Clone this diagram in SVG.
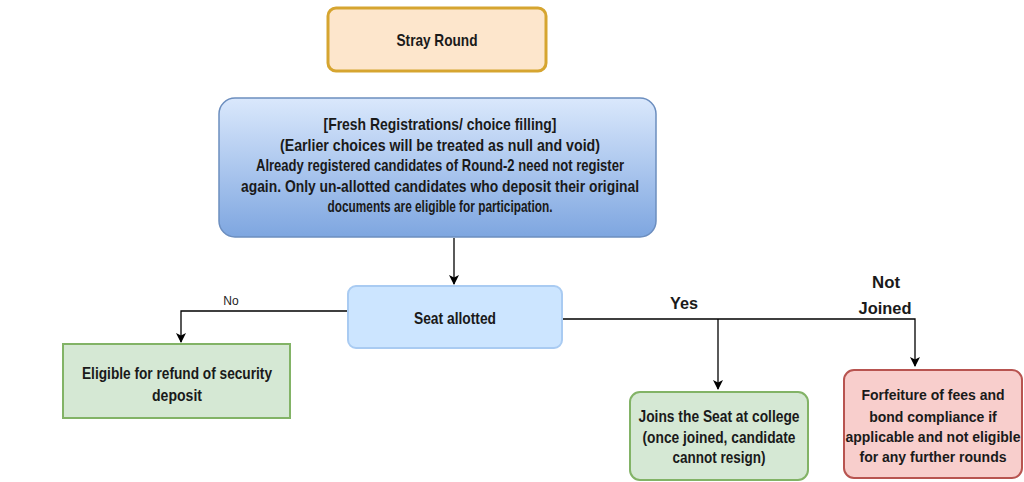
<svg xmlns="http://www.w3.org/2000/svg" width="1024" height="482" viewBox="0 0 1024 482">
<defs>
<linearGradient id="blueGrad" x1="0" y1="0" x2="0" y2="1">
<stop offset="0" stop-color="#dae8fc"/>
<stop offset="1" stop-color="#7ea6e0"/>
</linearGradient>
<marker id="arrow" markerWidth="10" markerHeight="10" refX="9" refY="5" orient="auto" markerUnits="userSpaceOnUse">
<path d="M0,0 L10,5 L0,10 L2.5,5 Z" fill="#000"/>
</marker>
</defs>
<style>
.t{font-family:"Liberation Sans Narrow","Liberation Sans",Arial,sans-serif;font-weight:bold;font-size:17px;fill:#1a1a1a;text-anchor:middle}
.r{font-size:14px}
.lbl{font-family:"Liberation Sans Narrow","Liberation Sans",Arial,sans-serif;font-size:12px;fill:#222;text-anchor:middle}
.conn{fill:none;stroke:#000;stroke-width:1.3}
</style>
<rect width="1024" height="482" fill="#fff"/>
<g id="connectors">
<path class="conn" d="M454,238 V284" marker-end="url(#arrow)"/>
<path class="conn" d="M348,311 H181 V342" marker-end="url(#arrow)"/>
<path class="conn" d="M562,319 H915 V366" marker-end="url(#arrow)"/>
<path class="conn" d="M718,319 V389" marker-end="url(#arrow)"/>
<text class="lbl" x="231" y="305">No</text>
<text class="t" x="684" y="309" textLength="28" lengthAdjust="spacingAndGlyphs">Yes</text>
<text class="t" x="886" y="288" textLength="28" lengthAdjust="spacingAndGlyphs">Not</text>
<text class="t" x="885" y="314" textLength="53" lengthAdjust="spacingAndGlyphs">Joined</text>
</g>
<g id="stray-round">
<rect x="328" y="8" width="218" height="63" rx="8" fill="#fde6cc" stroke="#d6a530" stroke-width="3"/>
<text class="t" x="437" y="46" textLength="81" lengthAdjust="spacingAndGlyphs">Stray Round</text>
</g>
<g id="fresh-registration">
<rect x="219" y="98" width="437" height="139" rx="16" fill="url(#blueGrad)" stroke="#6c8ebf" stroke-width="1.5"/>
<text class="t" x="440" y="130" textLength="233" lengthAdjust="spacingAndGlyphs">[Fresh Registrations/ choice filling]</text>
<text class="t" x="440" y="150.5" textLength="320" lengthAdjust="spacingAndGlyphs">(Earlier choices will be treated as null and void)</text>
<text class="t" x="440" y="171" textLength="368" lengthAdjust="spacingAndGlyphs">Already registered candidates of Round-2 need not register</text>
<text class="t" x="440" y="191.5" textLength="398" lengthAdjust="spacingAndGlyphs">again. Only un-allotted candidates who deposit their original</text>
<text class="t" x="440" y="212" textLength="225" lengthAdjust="spacingAndGlyphs">documents are eligible for participation.</text>
</g>
<g id="seat-allotted">
<rect x="348" y="286" width="214" height="62" rx="8" fill="#cce5ff" stroke="#a9cbf2" stroke-width="2"/>
<text class="t" x="455" y="324" textLength="82" lengthAdjust="spacingAndGlyphs">Seat allotted</text>
</g>
<g id="refund">
<rect x="63" y="344" width="227" height="74" fill="#d5e8d4" stroke="#82b366" stroke-width="2"/>
<text class="t" x="177" y="379" textLength="190" lengthAdjust="spacingAndGlyphs">Eligible for refund of security</text>
<text class="t" x="177" y="401" textLength="50" lengthAdjust="spacingAndGlyphs">deposit</text>
</g>
<g id="joins-seat">
<rect x="630" y="392" width="178" height="88" rx="10" fill="#d5e8d4" stroke="#82b366" stroke-width="2"/>
<text class="t" x="719" y="422" textLength="161" lengthAdjust="spacingAndGlyphs">Joins the Seat at college</text>
<text class="t" x="719" y="443" textLength="153" lengthAdjust="spacingAndGlyphs">(once joined, candidate</text>
<text class="t" x="719" y="463" textLength="93" lengthAdjust="spacingAndGlyphs">cannot resign)</text>
</g>
<g id="forfeiture">
<rect x="844" y="370" width="178" height="108" rx="10" fill="#f8cecc" stroke="#b85450" stroke-width="2"/>
<text class="t r" x="933" y="400">Forfeiture of fees and</text>
<text class="t r" x="933" y="422">bond compliance if</text>
<text class="t r" x="933" y="442">applicable and not eligible</text>
<text class="t r" x="933" y="462">for any further rounds</text>
</g>
</svg>
